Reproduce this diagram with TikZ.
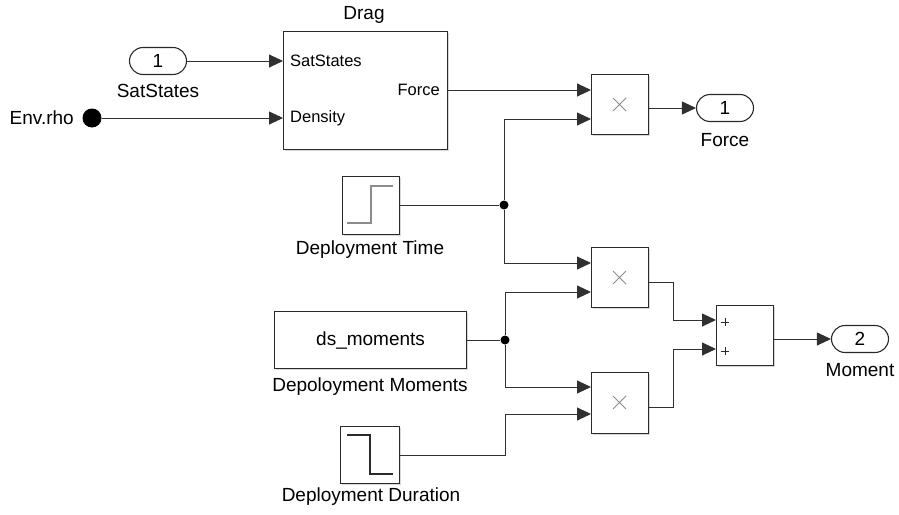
\documentclass[tikz,border=0pt]{standalone}
\usepackage{fontspec}
\setmainfont{Liberation Sans}
\usetikzlibrary{arrows.meta,shadows}
\definecolor{wire}{HTML}{303030}
\definecolor{edge}{HTML}{2A2A2A}
\definecolor{icon}{HTML}{8C8C8C}
\tikzset{
  blk/.style={draw=edge, line width=1.2pt, fill=white, rectangle, inner sep=0pt,
    drop shadow={shadow xshift=1.5pt, shadow yshift=-1.5pt, fill=black!30}},
  port/.style={draw=edge, line width=1.1pt, fill=white, rectangle, rounded corners=13.5pt,
    minimum width=57pt, minimum height=27pt, inner sep=0pt, font=\fontsize{19}{22}\selectfont},
  sig/.style={draw=wire, line width=0.9pt, -{Triangle[length=14pt,width=13pt]}},
  wireline/.style={draw=wire, line width=0.9pt},
  lbl/.style={font=\fontsize{19}{22}\selectfont, inner sep=0pt},
  plbl/.style={font=\fontsize{16.5}{20}\selectfont, inner sep=0pt},
  junc/.style={circle, fill=black, inner sep=0pt, minimum size=9pt},
  iconline/.style={draw=icon, line width=1pt},
}
\begin{document}
\begin{tikzpicture}[x=1pt, y=-1pt]
\useasboundingbox (0,0) rectangle (899,514);

% ---- blocks ----
\node[blk, anchor=north west, minimum width=164pt, minimum height=118pt] (drag) at (283,31) {};
\node[lbl] (dragname) at (364,15) {Drag};
\node[plbl, anchor=west] (dsat) at (290,61) {SatStates};
\node[plbl, anchor=west] (dden) at (290,118) {Density};
\node[plbl, anchor=east] (dforce) at (440,90) {Force};

\node[port] (in1) at (158,61) {1};
\node[lbl] (in1name) at (158,91) {SatStates};

\node[junc, minimum size=19pt] (env) at (92,118) {};
\node[lbl, anchor=east] (envname) at (74,118) {Env.rho};

\node[blk, anchor=north west, minimum width=57pt, minimum height=60pt] (prod1) at (591,74) {};
\node[blk, anchor=north west, minimum width=57pt, minimum height=60pt] (prod2) at (591,247) {};
\node[blk, anchor=north west, minimum width=57pt, minimum height=61pt] (prod3) at (591,372) {};
\node[blk, anchor=north west, minimum width=57pt, minimum height=60pt] (sum) at (716,305) {};

\node[port] (outF) at (725,108) {1};
\node[lbl] (outFname) at (725,140) {Force};
\node[port] (outM) at (860,339) {2};
\node[lbl] (outMname) at (860,370) {Moment};

\node[blk, anchor=north west, minimum width=57pt, minimum height=58pt] (step1) at (342,176) {};
\node[lbl] (step1name) at (370,250) {Deployment Time};

\node[blk, anchor=north west, minimum width=192pt, minimum height=57pt, font=\fontsize{19}{22}\selectfont] (const) at (274,311) {ds\_moments};
\node[lbl] (constname) at (370,387) {Depoloyment Moments};

\node[blk, anchor=north west, minimum width=59pt, minimum height=57pt] (step2) at (340,426) {};
\node[lbl] (step2name) at (371,497) {Deployment Duration};

% ---- block icons ----
\draw[iconline] (613,98) -- (626,111) (626,98) -- (613,111);
\draw[iconline] (613,271) -- (626,284) (626,271) -- (613,284);
\draw[iconline] (613,396) -- (626,409) (626,396) -- (613,409);
\draw[draw=edge, line width=0.8pt] (721,322) -- (729,322) (725,318) -- (725,326)
                                   (721,351) -- (729,351) (725,347) -- (725,355);
\draw[iconline, line width=1.2pt] (347,223) -- (371,223) -- (371,186) -- (393,186);
\draw[draw=edge, line width=1.2pt] (347,435) -- (370,435) -- (370,474) -- (393,474);

% ---- ports and junctions ----
\coordinate (dragF) at (447,90);
\coordinate (p1a) at (591,90);
\coordinate (p1b) at (591,119);
\coordinate (p1out) at (648,108);
\coordinate (p2a) at (591,263);
\coordinate (p2b) at (591,292);
\coordinate (p2out) at (648,282);
\coordinate (p3a) at (591,387);
\coordinate (p3b) at (591,414);
\coordinate (p3out) at (648,407);
\coordinate (sa) at (716,320);
\coordinate (sb) at (716,349);
\coordinate (sout) at (773,339);
\coordinate (bendx) at (673,0);
\node[junc] (j1) at (504,205) {};
\node[junc] (j2) at (505,340) {};

% ---- signals ----
\draw[sig] (in1.east) -- (drag.west |- in1);
\draw[sig] (env.east) -- (drag.west |- env);
\draw[sig] (dragF) -- (p1a);
\draw[sig] (p1out) -- (outF.west);
\draw[wireline] (step1.east |- j1) -- (j1);
\draw[sig] (j1) |- (p1b);
\draw[sig] (j1) |- (p2a);
\draw[wireline] (const.east |- j2) -- (j2);
\draw[sig] (j2) |- (p2b);
\draw[sig] (j2) |- (p3a);
\draw[sig] (step2.east) -| (j2 |- p3b) -- (p3b);
\draw[sig] (p2out) -| (bendx |- sa) -- (sa);
\draw[sig] (p3out) -| (bendx |- sb) -- (sb);
\draw[sig] (sout) -- (outM.west);
\end{tikzpicture}
\end{document}
